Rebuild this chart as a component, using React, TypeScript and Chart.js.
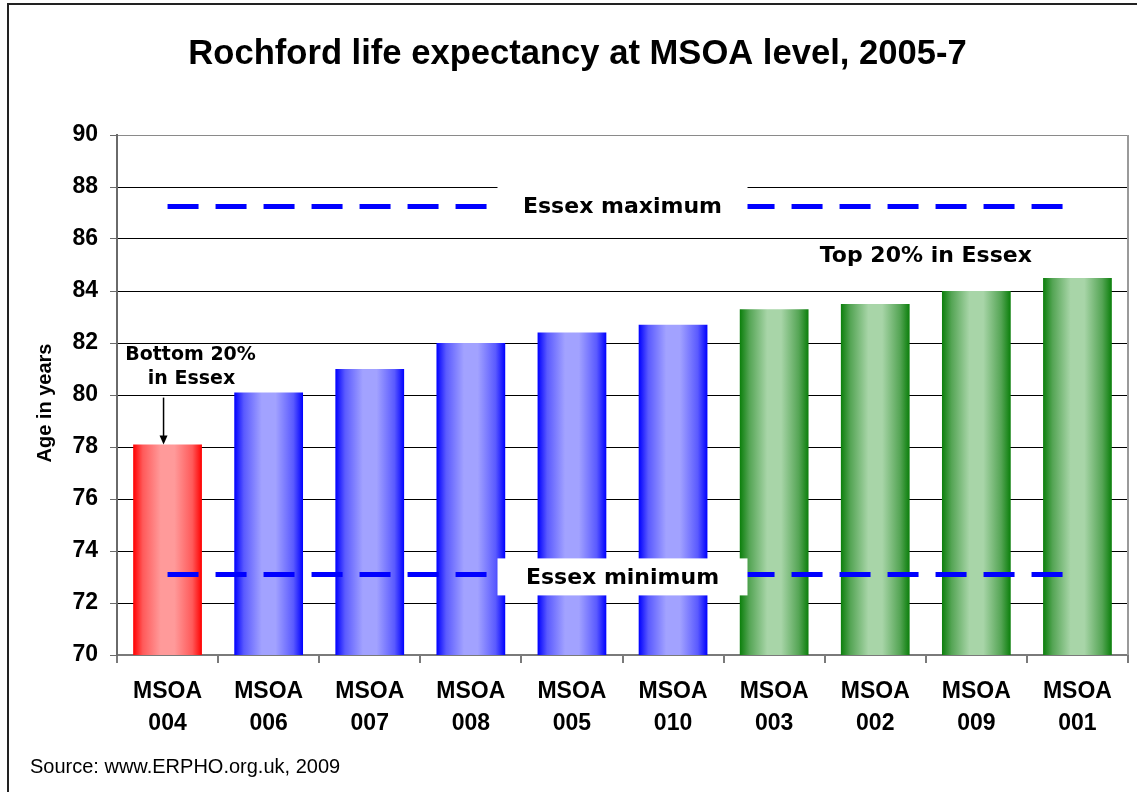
import React, { useEffect, useRef } from "react";
import { Chart, registerables } from "chart.js";

Chart.register(...registerables);

// ---------- data ----------
const msoaCodes = ["004", "006", "007", "008", "005", "010", "003", "002", "009", "001"];
const categoryLabels = msoaCodes.map((code) => ["MSOA", code]);
const lifeExpectancy = [78.1, 80.1, 81.0, 82.0, 82.4, 82.7, 83.3, 83.5, 84.0, 84.5];
const essexGroup = ["bottom", "middle", "middle", "middle", "middle", "middle", "top", "top", "top", "top"];
const essexMaximum = 87.25;
const essexMinimum = 73.1;
const yMin = 70;
const yMax = 90;
const yStep = 2;

const chartTitle = "Rochford life expectancy at MSOA level, 2005-7";
const yAxisTitle = "Age in years";
const sourceNote = "Source: www.ERPHO.org.uk, 2009";
const maxLabel = "Essex maximum";
const minLabel = "Essex minimum";
const bottomLabel = ["Bottom 20%", "in Essex"];
const topLabel = "Top 20% in Essex";

// ---------- styles ----------
const ARIAL = '"Liberation Sans", Arial, sans-serif';
const VERDANA = '"DejaVu Sans", Verdana, sans-serif';
const BAR_PCT = 0.68;

const palettes: Record<string, { edge: string; mid: string; light: string }> = {
  bottom: { edge: "#FF0000", mid: "#FF5A5A", light: "#FF9A9A" },
  middle: { edge: "#0000FF", mid: "#5A5AFF", light: "#A2A2FF" },
  top: { edge: "#0B7F0B", mid: "#55A555", light: "#A8D5A8" },
};

function barFill(c: any) {
  const chart = c.chart;
  const idx = c.dataIndex;
  if (c.type !== "data" || idx === undefined) return palettes.middle.edge;
  const pal = palettes[essexGroup[idx]];
  const xScale = chart.scales && chart.scales.x;
  if (!chart.chartArea || !xScale) return pal.edge;
  const center = xScale.getPixelForValue(idx);
  const half = ((xScale.width / msoaCodes.length) * BAR_PCT) / 2;
  const g = chart.ctx.createLinearGradient(center - half, 0, center + half, 0);
  g.addColorStop(0, pal.edge);
  g.addColorStop(0.14, pal.mid);
  g.addColorStop(0.4, pal.light);
  g.addColorStop(0.6, pal.light);
  g.addColorStop(0.86, pal.mid);
  g.addColorStop(1, pal.edge);
  return g;
}

const decorPlugin = {
  id: "decor",
  beforeDraw(chart: any) {
    const { ctx, width, height } = chart;
    ctx.save();
    ctx.fillStyle = "#FFFFFF";
    ctx.fillRect(0, 0, width, height);
    ctx.strokeStyle = "#222222";
    ctx.lineWidth = 2;
    ctx.strokeRect(8, 4, width + 40, height + 40);
    ctx.restore();
  },
  afterDatasetsDraw(chart: any) {
    const { ctx, chartArea } = chart;
    const xs = chart.scales.x;
    const ys = chart.scales.y;
    ctx.save();

    // plot-area right border
    ctx.strokeStyle = "#9A9A9A";
    ctx.lineWidth = 2;
    ctx.beginPath();
    ctx.moveTo(chartArea.right, chartArea.top);
    ctx.lineTo(chartArea.right, chartArea.bottom);
    ctx.stroke();

    // Essex max / min dashed reference lines
    const x0 = xs.getPixelForValue(0);
    const x1 = xs.getPixelForValue(msoaCodes.length - 1);
    ctx.strokeStyle = "#0000FF";
    ctx.lineWidth = 5;
    ctx.setLineDash([31, 17]);
    [essexMaximum, essexMinimum].forEach((v) => {
      const y = ys.getPixelForValue(v);
      ctx.beginPath();
      ctx.moveTo(x0, y);
      ctx.lineTo(x1, y);
      ctx.stroke();
    });
    ctx.setLineDash([]);

    // label boxes
    const boxCx = xs.getPixelForValue(4.5);
    const yMaxPx = ys.getPixelForValue(essexMaximum);
    const yMinPx = ys.getPixelForValue(essexMinimum);
    ctx.fillStyle = "#FFFFFF";
    ctx.fillRect(boxCx - 125, yMaxPx - 24, 250, 44);
    ctx.fillRect(boxCx - 125, yMinPx - 16, 250, 37);

    ctx.fillStyle = "#000000";
    ctx.textAlign = "center";
    ctx.textBaseline = "middle";
    ctx.font = `bold 22px ${VERDANA}`;
    ctx.fillText(maxLabel, boxCx, yMaxPx + 1);
    ctx.fillText(minLabel, boxCx, yMinPx + 4);

    // top 20% label
    ctx.fillText(topLabel, xs.getPixelForValue(7.5), ys.getPixelForValue(85.32));

    // bottom 20% label + arrow
    const bx = xs.getPixelForValue(0);
    ctx.font = `bold 19px ${VERDANA}`;
    ctx.fillText(bottomLabel[0], bx + 23, ys.getPixelForValue(81.55));
    ctx.fillText(bottomLabel[1], bx + 24, ys.getPixelForValue(80.62));

    const ax = bx - 4;
    const ayTop = ys.getPixelForValue(79.9);
    const ayTip = ys.getPixelForValue(lifeExpectancy[0]);
    ctx.strokeStyle = "#000000";
    ctx.lineWidth = 1.5;
    ctx.beginPath();
    ctx.moveTo(ax, ayTop);
    ctx.lineTo(ax, ayTip - 6);
    ctx.stroke();
    ctx.beginPath();
    ctx.moveTo(ax, ayTip);
    ctx.lineTo(ax - 4, ayTip - 9);
    ctx.lineTo(ax + 4, ayTip - 9);
    ctx.closePath();
    ctx.fill();

    ctx.restore();
  },
  afterDraw(chart: any) {
    const { ctx, chartArea } = chart;
    ctx.save();
    ctx.fillStyle = "#000000";
    ctx.textAlign = "center";
    ctx.textBaseline = "alphabetic";
    ctx.font = `bold 34.6px ${ARIAL}`;
    ctx.fillText(chartTitle, 577.5, 64);

    // y-axis title
    ctx.save();
    ctx.translate(45, (chartArea.top + chartArea.bottom) / 2 + 8);
    ctx.rotate(-Math.PI / 2);
    ctx.textBaseline = "middle";
    ctx.font = `bold 20px ${ARIAL}`;
    ctx.fillText(yAxisTitle, 0, 0);
    ctx.restore();

    // source
    ctx.textAlign = "left";
    ctx.font = `20px ${ARIAL}`;
    ctx.fillText(sourceNote, 30, 773);
    ctx.restore();
  },
};

export default function App() {
  const canvasRef = useRef<HTMLCanvasElement | null>(null);

  useEffect(() => {
    const canvas = canvasRef.current;
    if (!canvas) return;
    const chart = new Chart(canvas, {
      type: "bar",
      data: {
        labels: categoryLabels,
        datasets: [
          {
            label: "Life expectancy",
            data: lifeExpectancy,
            backgroundColor: barFill,
            borderWidth: 0,
            barPercentage: BAR_PCT,
            categoryPercentage: 1,
          },
        ],
      },
      options: {
        responsive: false,
        animation: false,
        devicePixelRatio: 1,
        layout: { padding: { top: 135, right: 9, bottom: 0, left: 0 } },
        plugins: {
          legend: { display: false },
          title: { display: false },
          tooltip: { enabled: false },
        },
        scales: {
          x: {
            offset: true,
            grid: {
              offset: true,
              drawOnChartArea: false,
              drawTicks: true,
              tickLength: 8,
              color: "#7A7A7A",
              lineWidth: 2,
            },
            border: { display: true, color: "#7A7A7A", width: 2 },
            ticks: {
              color: "#000000",
              font: { family: ARIAL, size: 23, weight: "bold", lineHeight: 1.42 },
              padding: 12,
              maxRotation: 0,
              autoSkip: false,
            },
            afterFit: (scale: any) => {
              scale.height = 137;
            },
          },
          y: {
            min: yMin,
            max: yMax,
            grid: {
              color: (c: any) => (c.tick && (c.tick.value === yMax || c.tick.value === yMin) ? "#8A8A8A" : "#000000"),
              lineWidth: 1,
              drawTicks: true,
              tickLength: 7,
              tickColor: "#6A6A6A",
            },
            border: { display: true, color: "#6A6A6A", width: 2 },
            ticks: {
              stepSize: yStep,
              color: "#000000",
              font: { family: ARIAL, size: 23, weight: "bold" },
              padding: 12,
            },
            afterFit: (scale: any) => {
              scale.width = 117;
            },
          },
        },
      },
      plugins: [decorPlugin],
    } as any);
    return () => chart.destroy();
  }, []);

  return (
    <div style={{ position: "fixed", left: 0, top: 0, width: 1137, height: 792, background: "#fff" }}>
      <canvas ref={canvasRef} width={1137} height={792} style={{ display: "block" }} />
    </div>
  );
}
